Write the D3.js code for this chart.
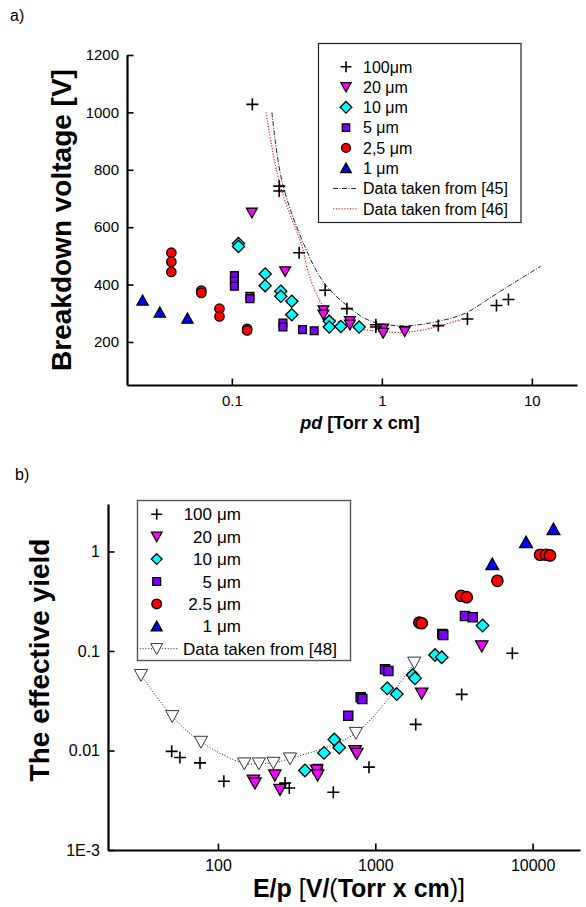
<!DOCTYPE html>
<html>
<head>
<meta charset="utf-8">
<title>Breakdown voltage and effective yield</title>
<script src="https://d3js.org/d3.v7.min.js"></script>
<style>
  body { margin: 0; background: #fff; }
  text { font-family: "Liberation Sans", Arial, sans-serif; fill: #000; }
</style>
</head>
<body>
<div id="content"></div>
<script>
// ---- panel a) : breakdown voltage vs pd ----
const a100 = [[0.137,1028],[0.207,743],[0.207,726],[0.281,511],[0.419,380],[0.585,316],[0.912,260],[0.912,252],[2.38,257],[3.72,280],[5.81,327],[6.98,348]]
const a20 = [[0.136,650],[0.2265,446],[0.408,310],[0.408,295],[0.612,272],[0.612,260],[1.02,246],[1.02,231],[1.42,237]]
const a10 = [[0.1107,543],[0.1107,533],[0.1668,437],[0.1668,396],[0.212,377],[0.212,359],[0.251,342],[0.251,295],[0.446,272],[0.446,252],[0.533,254],[0.706,252]]
const a5 = [[0.104,431],[0.104,412],[0.104,394],[0.132,359],[0.132,351],[0.219,266],[0.219,252],[0.296,243],[0.354,239]]
const a25 = [[0.0395,511],[0.0395,479],[0.0395,444],[0.0626,379],[0.0626,371],[0.0827,316],[0.0827,289],[0.1264,246],[0.1264,240]]
const a1 = [[0.0254,345],[0.0331,303],[0.0506,282]]
const ref45 = [[0.185,1000],[0.217,755],[0.311,525],[0.412,406],[0.575,330],[0.822,275],[1.24,257],[1.77,260],[2.67,278],[3.63,301],[5.46,359],[8.2,417],[11.5,464]]
const ref46 = [[0.169,1000],[0.21,745],[0.296,528],[0.319,452],[0.382,348],[0.469,284],[0.671,249],[0.96,237],[1.45,234],[2.17,249],[3.36,278]]
const aLegend = ['100μm', '20 μm', '10 μm', '5 μm', '2,5 μm', '1 μm', 'Data taken from [45]', 'Data taken from [46]']
const aXLabels = [0.1, 1, 10]
const aYLabels = [200, 400, 600, 800, 1000, 1200]
const aYMinor = [100, 300, 500, 700, 900, 1100]

// ---- panel b) : effective yield vs E/p ----
const b100 = [[50.8,0.0098],[57.3,0.0085],[76.9,0.0075],[109,0.0049],[267,0.0047],[284,0.0042],[541,0.0038],[912,0.0068],[1807,0.0183],[3540,0.0366],[7430,0.0948]]
const b20 = [[168,0.0050],[172,0.0047],[230,0.00564],[248,0.00405],[424,0.00632],[430,0.00564],[744,0.0099],[763,0.0093],[1972,0.0375],[4750,0.112]]
const b10 = [[357,0.0063],[472,0.00946],[549,0.0129],[590,0.0107],[1191,0.0421],[1368,0.0369],[1730,0.0573],[1787,0.0531],[2399,0.0911],[2644,0.0865],[4808,0.180]]
const b5 = [[430,0.0065],[673,0.0223],[807,0.0342],[827,0.0329],[1153,0.0654],[1211,0.0629],[2667,0.148],[2704,0.145],[3715,0.225],[4160,0.218]]
const b25 = [[1905,0.193],[1972,0.190],[3508,0.358],[3810,0.347],[5970,0.507],[11150,0.927],[12170,0.927],[12900,0.912]]
const b1 = [[5540,0.747],[9080,1.24],[13560,1.68]]
const ref48 = [[32.4,0.0573],[51.2,0.0221],[78,0.0122],[147,0.0074],[182,0.0074],[225,0.0075],[287,0.0083],[753,0.0150],[1770,0.0762]]
const bLegendNum = ['100', '20', '10', '5', '2.5', '1']
const bLegendRef = 'Data taken from [48]'
const bXLabels = [100, 1000, 10000]
const bYLabels = [0.001, 0.01, 0.1, 1]
const bYText = ['1E-3', '0.01', '0.1', '1']

const svg = d3.select('#content').append('svg').attr('width', 586).attr('height', 907)

// marker outlines, s = half size
function shape(type, s) {
    if (type === 'plus') return `M${-s},0H${s}M0,${-s}V${s}`
    if (type === 'down') return `M${-s},${-s*0.85}H${s}L0,${s*0.95}Z`
    if (type === 'up') return `M${-s},${s*0.85}H${s}L0,${-s*0.95}Z`
    if (type === 'diamond') return `M0,${-s}L${s},0L0,${s}L${-s},0Z`
    if (type === 'square') return `M${-s},${-s}H${s}V${s}H${-s}Z`
    return `M${s},0A${s},${s} 0 1,1 ${-s},0A${s},${s} 0 1,1 ${s},0`
}

function drawMark(g, type, s, fill, x, y) {
    const p = g.append('path').attr('d', shape(type, s)).attr('transform', `translate(${x},${y})`)
    if (type === 'plus') p.attr('fill', 'none').attr('stroke', '#000').attr('stroke-width', 1.6)
    else p.attr('fill', fill).attr('stroke', '#000').attr('stroke-width', 1.3)
    return p
}

function axes(x, y, xMajor, xFmt, yMajor, yFmt, yMinor, fs) {
    const [x0] = x.range(), [y0] = y.range()
    const xMinor = x.ticks().filter(t => !xMajor.some(m => Math.abs(m - t) / m < 1e-6))
    const gx = svg.append('g').attr('transform', `translate(0,${y0})`)
    gx.call(d3.axisBottom(x).tickValues(xMinor).tickFormat('').tickSizeInner(-3.5).tickSizeOuter(0))
    gx.call(d3.axisBottom(x).tickValues(xMajor).tickFormat(xFmt).tickSizeInner(-6.5).tickSizeOuter(0).tickPadding(10))
    const gy = svg.append('g').attr('transform', `translate(${x0},0)`)
    gy.call(d3.axisLeft(y).tickValues(yMinor).tickFormat('').tickSizeInner(-3.5).tickSizeOuter(0))
    gy.call(d3.axisLeft(y).tickValues(yMajor).tickFormat(yFmt).tickSizeInner(-6.5).tickSizeOuter(0).tickPadding(8))
    svg.selectAll('.domain').attr('stroke-width', 2.2)
    svg.selectAll('.tick line').attr('stroke-width', 1.6)
    gx.selectAll('text').style('font-size', fs + 'px').attr('fill', '#000')
    gy.selectAll('text').style('font-size', fs + 'px').attr('fill', '#000')
}

// ================= panel a =================
const xa = d3.scaleLog().domain([0.02, 20]).range([127, 577])
const ya = d3.scaleLinear().domain([50, 1200]).range([385, 55])

axes(xa, ya, aXLabels, d => d, aYLabels, d => d, aYMinor, 15)

const lineA = d3.line().x(d => xa(d[0])).y(d => ya(d[1])).curve(d3.curveCatmullRom)
svg.append('path').datum(ref45).attr('d', lineA).attr('fill', 'none')
    .attr('stroke', '#111').attr('stroke-width', 0.9).attr('stroke-dasharray', '5,1.5,1,1.5')
svg.append('path').datum(ref46).attr('d', lineA).attr('fill', 'none')
    .attr('stroke', '#f00').attr('stroke-width', 1.1).attr('stroke-dasharray', '1.2,1.6')

const aSeries = [
    { data: a1, type: 'up', s: 5.6, fill: '#0000ff' },
    { data: a25, type: 'circle', s: 4.7, fill: '#ff0000' },
    { data: a5, type: 'square', s: 3.9, fill: '#8000ff' },
    { data: a10, type: 'diamond', s: 6.1, fill: '#00ffff' },
    { data: a20, type: 'down', s: 5.4, fill: '#ff00ff' },
    { data: a100, type: 'plus', s: 6, fill: 'none' }
]
const gA = svg.append('g')
aSeries.forEach(sr => sr.data.forEach(d => drawMark(gA, sr.type, sr.s, sr.fill, xa(d[0]), ya(d[1]))))

// legend a
svg.append('rect').attr('x', 318.5).attr('y', 43.5).attr('width', 202.5).attr('height', 179)
    .attr('fill', '#fff').attr('stroke', '#222').attr('stroke-width', 1.2)
const legA = [...aSeries].reverse()
aLegend.forEach((t, i) => {
    const cy = 66.7 + i * 20.3
    if (i < 6) {
        const sr = legA[i]
        drawMark(svg, sr.type, sr.type === 'plus' ? 5.5 : sr.s * 0.95, sr.fill, 346, cy)
    } else if (i === 6) {
        svg.append('line').attr('x1', 333).attr('x2', 357).attr('y1', cy).attr('y2', cy)
            .attr('stroke', '#111').attr('stroke-width', 0.9).attr('stroke-dasharray', '5,1.5,1,1.5')
    } else {
        svg.append('line').attr('x1', 333).attr('x2', 357).attr('y1', cy).attr('y2', cy)
            .attr('stroke', '#f00').attr('stroke-width', 1.1).attr('stroke-dasharray', '1.2,1.6')
    }
    svg.append('text').attr('x', 363).attr('y', cy + 5.8).style('font-size', '16px').text(t)
})

// titles a
svg.append('text').attr('x', 10).attr('y', 21).style('font-size', '16px').text('a)')
svg.append('text').attr('transform', 'translate(71,220) rotate(-90)').attr('text-anchor', 'middle')
    .style('font-size', '28px').style('font-weight', 'bold').text('Breakdown voltage [V]')
const tA = svg.append('text').attr('x', 360).attr('y', 429).attr('text-anchor', 'middle')
    .style('font-size', '18px').style('font-weight', 'bold')
tA.append('tspan').style('font-style', 'italic').text('pd')
tA.append('tspan').text(' [Torr x cm]')

// ================= panel b =================
const xb = d3.scaleLog().domain([20, 20000]).range([108, 580])
const yb = d3.scaleLog().domain([0.001, 3]).range([850, 504])

const bYMinor = yb.ticks().filter(t => !bYLabels.some(m => Math.abs(m - t) / m < 1e-6))
axes(xb, yb, bXLabels, d => d, bYLabels, (d, i) => bYText[i], bYMinor, 16)

const lineB = d3.line().x(d => xb(d[0])).y(d => yb(d[1])).curve(d3.curveCatmullRom)
svg.append('path').datum(ref48).attr('d', lineB).attr('fill', 'none')
    .attr('stroke', '#222').attr('stroke-width', 1).attr('stroke-dasharray', '1,1.8')

const bSeries = [
    { data: ref48, type: 'down', s: 6.6, fill: '#fff' },
    { data: b1, type: 'up', s: 6.4, fill: '#0000ff' },
    { data: b25, type: 'circle', s: 5.7, fill: '#ff0000' },
    { data: b5, type: 'square', s: 4.6, fill: '#8000ff' },
    { data: b10, type: 'diamond', s: 6.3, fill: '#00ffff' },
    { data: b20, type: 'down', s: 6.2, fill: '#ff00ff' },
    { data: b100, type: 'plus', s: 6, fill: 'none' }
]
const gB = svg.append('g')
bSeries.forEach((sr, k) => sr.data.forEach(d => {
    const p = drawMark(gB, sr.type, sr.s, sr.fill, xb(d[0]), yb(d[1]))
    if (k === 0) p.attr('stroke', '#333').attr('stroke-width', 1)
}))

// legend b
svg.append('rect').attr('x', 137.5).attr('y', 500.5).attr('width', 213).attr('height', 160)
    .attr('fill', '#fff').attr('stroke', '#555').attr('stroke-width', 1.4)
const legB = bSeries.slice(1).reverse()
bLegendNum.forEach((t, i) => {
    const cy = 514.3 + i * 22.4
    const sr = legB[i]
    drawMark(svg, sr.type, sr.type === 'plus' ? 5.5 : sr.s * 0.85, sr.fill, 156.7, cy)
    svg.append('text').attr('x', 212).attr('y', cy + 6).attr('text-anchor', 'end').style('font-size', '17px').text(t)
    svg.append('text').attr('x', 217).attr('y', cy + 6).style('font-size', '17px').text('μm')
})
const cyR = 514.3 + 6 * 22.4
svg.append('line').attr('x1', 137).attr('x2', 178).attr('y1', cyR).attr('y2', cyR)
    .attr('stroke', '#222').attr('stroke-width', 1).attr('stroke-dasharray', '1,1.8')
drawMark(svg, 'down', 6, '#fff', 156.7, cyR).attr('stroke', '#333').attr('stroke-width', 1)
svg.append('text').attr('x', 183).attr('y', cyR + 6).style('font-size', '17px').text(bLegendRef)

// titles b
svg.append('text').attr('x', 15).attr('y', 480).style('font-size', '16px').text('b)')
svg.append('text').attr('transform', 'translate(49,660) rotate(-90)').attr('text-anchor', 'middle')
    .style('font-size', '28px').style('font-weight', 'bold').text('The effective yield')
const tB = svg.append('text').attr('x', 359).attr('y', 897).attr('text-anchor', 'middle').style('font-size', '25px')
tB.append('tspan').style('font-weight', 'bold').text('E/p ')
tB.append('tspan').text('[')
tB.append('tspan').style('font-weight', 'bold').text('V/')
tB.append('tspan').text('(')
tB.append('tspan').style('font-weight', 'bold').text('Torr x cm')
tB.append('tspan').text(')]')
</script>
</body>
</html>
